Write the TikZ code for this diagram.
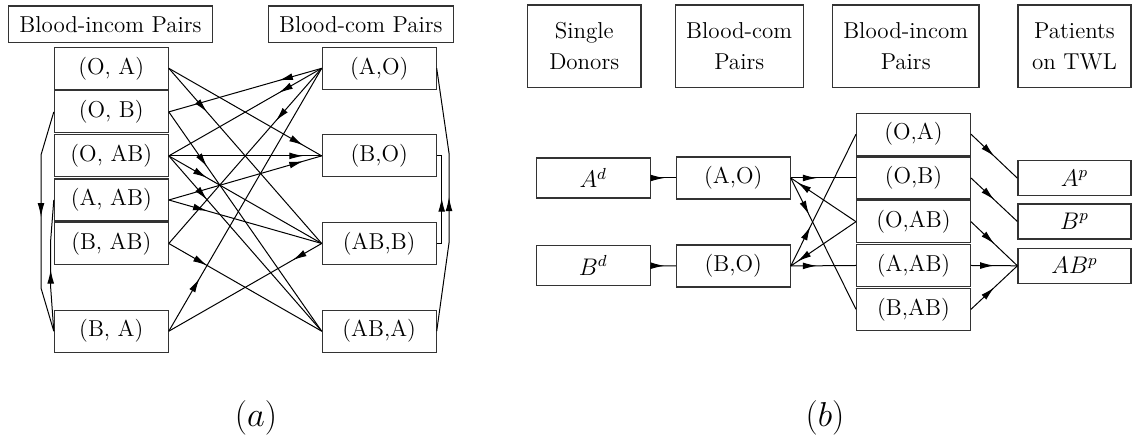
\documentclass[tikz,border=0pt]{standalone}
\usepackage{fontspec}
\usetikzlibrary{arrows.meta,decorations.markings}
\begin{document}
\begin{tikzpicture}[x=0.5pt,y=-0.5pt,
  box/.style={draw=black!80, line width=0.6pt, inner sep=0pt,
    font=\fontsize{11.5}{13.5}\selectfont},
  head/.style={box, minimum height=18.35pt},
  headtwo/.style={box, align=center, minimum height=41.2pt,
    font=\fontsize{11.5}{15.3}\selectfont},
  pairbox/.style={box, minimum width=56.9pt, minimum height=21pt},
  donorbox/.style={box, minimum width=56.9pt, minimum height=20pt},
  patbox/.style={box, minimum width=56.5pt, minimum height=17.5pt},
  wire/.style={line width=0.5pt},
  tip at/.style={postaction={decorate, decoration={markings,
    mark=at position #1 with {\arrow{Latex[length=7pt,width=3.4pt]}}}}},
  caption/.style={inner sep=0pt, font=\fontsize{16}{19}\selectfont},
]
\useasboundingbox (0,0) rectangle (1132,437);

% ---------------- (a) ----------------
\node[head, minimum width=102.2pt] (aHinc) at (110.5,24.3) {Blood-incom Pairs};
\node[head, minimum width=92.5pt]  (aHcom) at (360.8,24.3) {Blood-com Pairs};

\node[pairbox] (aOA)  at (111.3,68.3)  {(O, A)};
\node[pairbox] (aOB)  at (111.3,111.9) {(O, B)};
\node[pairbox] (aOAB) at (111.3,155.9) {(O, AB)};
\node[pairbox] (aAAB) at (111.3,200.0) {(A, AB)};
\node[pairbox] (aBAB) at (111.3,243.5) {(B, AB)};
\node[pairbox] (aBA)  at (111.3,331.2) {(B, A)};

\node[pairbox] (aAO)  at (379.2,68.3)  {(A,O)};
\node[pairbox] (aBO)  at (379.2,155.9) {(B,O)};
\node[pairbox] (aABB) at (379.2,243.5) {(AB,B)};
\node[pairbox] (aABA) at (379.2,331.2) {(AB,A)};

% edges leaving (A,O)
\draw[wire, tip at=0.28] (aAO.west) -- (aOB.east);
\draw[wire, tip at=0.28] (aAO.west) -- (aOAB.east);
\draw[wire, tip at=0.30] (aAO.west) -- (aBAB.east);
% edges into (B,O)
\draw[wire, tip at=0.88] (aOA.east)  -- (aBO.west);
\draw[wire, tip at=0.88] (aOAB.east) -- (aBO.west);
\draw[wire, tip at=0.88] (aAAB.east) -- (aBO.west);
% edges into (AB,B)
\draw[wire, tip at=0.25] (aOA.east)  -- (aABB.west);
\draw[wire, tip at=0.25] (aOAB.east) -- (aABB.west);
\draw[wire, tip at=0.25] (aAAB.east) -- (aABB.west);
% edges into (AB,A)
\draw[wire, tip at=0.25] (aOB.east)  -- (aABA.west);
\draw[wire, tip at=0.25] (aOAB.east) -- (aABA.west);
\draw[wire, tip at=0.25] (aBAB.east) -- (aABA.west);
% (B,A) and (AB,B)
\draw[wire, tip at=0.20] (aBA.east) -- (aAO.west);
\draw[wire, tip at=0.19] (aABB.west) -- (aBA.east);

% loops round the left column
\coordinate (lo1) at (41,155);
\coordinate (lo2) at (41,288);
\coordinate (li1) at (50.7,288);
\coordinate (li2) at (50.7,240);
\draw[wire, tip at=0.48] (aOB.west) -- (lo1) -- (lo2) -- (aBA.west);
\draw[wire, tip at=0.47] (aBA.west) -- (li1) -- (li2) -- (aAAB.west);

% loops round the right column
\coordinate (ro1) at (449,243);
\coordinate (ro2) at (449,153);
\draw[wire, tip at=0.52] (aABB.east) -- ++(5,0) |- (aBO.east);
\draw[wire, tip at=0.51] (aABA.east) -- (ro1) -- (ro2) -- (aAO.east);

\node[caption] (capA) at (256,418) {$(a)$};

% ---------------- (b) ----------------
\node[headtwo, minimum width=56.8pt] (bHsd) at (584.2,46.2)  {Single\\Donors};
\node[headtwo, minimum width=63.9pt] (bHbc) at (739.2,46.2)  {Blood-com\\Pairs};
\node[headtwo, minimum width=73.2pt] (bHbi) at (905.7,46.2)  {Blood-incom\\Pairs};
\node[headtwo, minimum width=56.5pt] (bHpt) at (1074.5,46.2) {Patients\\on TWL};

\node[donorbox] (bAd) at (593.2,178.0) {$A^d$};
\node[donorbox] (bBd) at (593.2,265.7) {$B^d$};
\node[pairbox]  (bAO) at (733.3,178.0) {(A,O)};
\node[pairbox]  (bBO) at (733.3,266.0) {(B,O)};

\node[pairbox] (bOA)  at (913.5,134.2) {(O,A)};
\node[pairbox] (bOB)  at (913.5,178.0) {(O,B)};
\node[pairbox] (bOAB) at (913.5,221.7) {(O,AB)};
\node[pairbox] (bAAB) at (913.5,265.5) {(A,AB)};
\node[pairbox] (bBAB) at (913.5,309.3) {(B,AB)};

\node[patbox] (bAp)  at (1074.5,178.2) {$A^p$};
\node[patbox] (bBp)  at (1074.5,221.5) {$B^p$};
\node[patbox] (bABp) at (1074.5,265.8) {$AB^p$};

\draw[wire, tip at=0.55] (bAd.east) -- (bAO.west);
\draw[wire, tip at=0.55] (bBd.east) -- (bBO.west);

\draw[wire, tip at=0.40] (bAO.east) -- (bOB.west);
\draw[wire, tip at=0.28] (bAO.east) -- (bBAB.west);
\draw[wire, tip at=0.90] (bOAB.west) -- (bAO.east);

\draw[wire, tip at=0.40] (bBO.east) -- (bAAB.west);
\draw[wire, tip at=0.30] (bBO.east) -- (bOA.west);
\draw[wire, tip at=0.90] (bOAB.west) -- (bBO.east);

\draw[wire, tip at=0.5] (bOA.east)  -- (bAp.west);
\draw[wire, tip at=0.5] (bOB.east)  -- (bBp.west);
\draw[wire, tip at=0.5] (bOAB.east) -- (bABp.west);
\draw[wire, tip at=0.5] (bAAB.east) -- (bABp.west);
\draw[wire, tip at=0.5] (bBAB.east) -- (bABp.west);

\node[caption] (capB) at (825,418) {$(b)$};
\end{tikzpicture}
\end{document}
